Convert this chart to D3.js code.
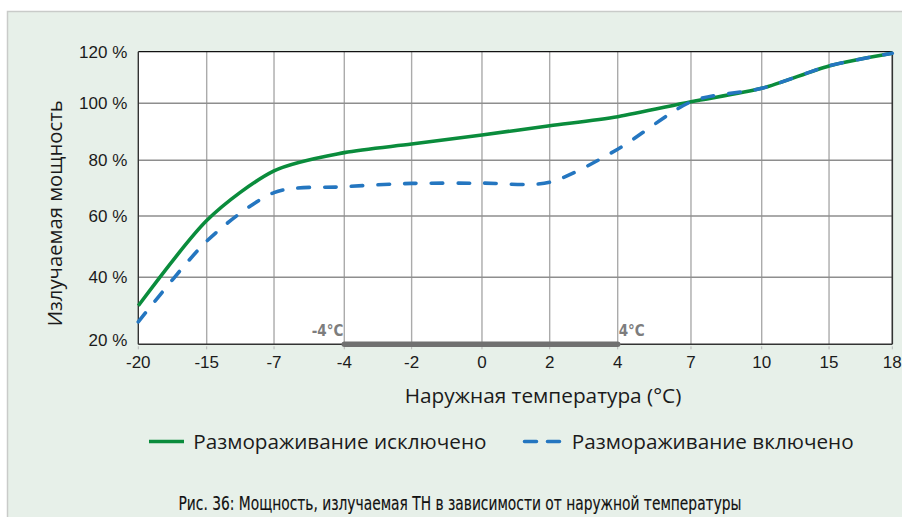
<!DOCTYPE html>
<html>
<head>
<meta charset="utf-8">
<script src="https://cdn.jsdelivr.net/npm/d3@7"></script>
<style>
  html, body { margin: 0; padding: 0; background: #ffffff; }
  svg { display: block; }
</style>
</head>
<body>
<svg id="chart" width="902" height="517"></svg>
<script>
// Outdoor temperature categories (°C), evenly spaced on the axis
const temperatures = [-20, -15, -7, -4, -2, 0, 2, 4, 7, 10, 15, 18];
// Emitted heat-pump power, % of nominal
const powerDefrostOff = [31.5, 58.5, 76.2, 82.7, 85.7, 88.9, 92.1, 95.3, 100.6, 105.8, 114.5, 119.4];
const powerDefrostOn  = [26.7, 51.8, 68.4, 70.5, 71.7, 71.8, 72.1, 83.9, 100.6, 105.8, 114.5, 119.4];
// Value axis ticks
const yTicks = [20, 40, 60, 80, 100, 120];
const yTickLabels = ["20 %", "40 %", "60 %", "80 %", "100 %", "120 %"];
// Defrost zone shown on the temperature axis
const defrostZone = [-4, 4];
const defrostZoneLabels = ["-4°C", "4°C"];
const seriesNames = ["Размораживание исключено", "Размораживание включено"];
const xTitle = "Наружная температура (°C)";
const yTitle = "Излучаемая мощность";
const caption = "Рис. 36: Мощность, излучаемая ТН в зависимости от наружной температуры";

const W = 902, H = 517;
const plot = { left: 138.3, top: 51.7, right: 892.3, bottom: 344.3 };
const pw = plot.right - plot.left, ph = plot.bottom - plot.top;

// Grid spacing of the printed axes is slightly uneven; relative stops per tick
const xStops = [0, 0.0907, 0.180, 0.2732, 0.3625, 0.4558, 0.5456, 0.6358, 0.733, 0.8268, 0.9161, 1];
const yStops = [1, 0.771, 0.5615, 0.3712, 0.1764, 0];

const xIdx = d3.scaleLinear()
  .domain(d3.range(temperatures.length))
  .range(xStops.map(f => plot.left + f * pw));
const x = t => xIdx(temperatures.indexOf(t));
const y = d3.scaleLinear()
  .domain(yTicks)
  .range(yStops.map(f => plot.top + f * ph));

const svg = d3.select("#chart");

// light green backdrop panel
svg.append("rect")
  .attr("x", 7.5).attr("y", 11.5)
  .attr("width", W).attr("height", H)
  .attr("fill", "#e7f0e9")
  .attr("stroke", "#c9cbc9").attr("stroke-width", 1.5);

// plot area
svg.append("rect")
  .attr("x", plot.left).attr("y", plot.top)
  .attr("width", pw).attr("height", ph)
  .attr("fill", "#ffffff");

// vertical grid
svg.append("g").selectAll("line")
  .data(temperatures.slice(1, -1))
  .join("line")
  .attr("x1", d => x(d)).attr("x2", d => x(d))
  .attr("y1", plot.top).attr("y2", plot.bottom)
  .attr("stroke", "#ababab").attr("stroke-width", 1.4);

// horizontal grid
svg.append("g").selectAll("line")
  .data(yTicks.slice(1, -1))
  .join("line")
  .attr("x1", plot.left).attr("x2", plot.right)
  .attr("y1", d => y(d)).attr("y2", d => y(d))
  .attr("stroke", "#8e8e8e").attr("stroke-width", 1.4);

// small tick marks under the temperature axis
svg.append("g").selectAll("line")
  .data(temperatures)
  .join("line")
  .attr("x1", d => x(d)).attr("x2", d => x(d))
  .attr("y1", plot.bottom + 2).attr("y2", plot.bottom + 5)
  .attr("stroke", "#b8b8b8").attr("stroke-width", 1);

// frame
svg.append("line").attr("x1", plot.left).attr("x2", plot.right)
  .attr("y1", plot.top).attr("y2", plot.top)
  .attr("stroke", "#111").attr("stroke-width", 1.2);
svg.append("line").attr("x1", plot.right).attr("x2", plot.right)
  .attr("y1", plot.top).attr("y2", plot.bottom)
  .attr("stroke", "#333").attr("stroke-width", 1.6);
svg.append("line").attr("x1", plot.left).attr("x2", plot.left)
  .attr("y1", plot.top).attr("y2", plot.bottom)
  .attr("stroke", "#333").attr("stroke-width", 1.4);
svg.append("line").attr("x1", plot.left).attr("x2", plot.right)
  .attr("y1", plot.bottom).attr("y2", plot.bottom)
  .attr("stroke", "#333").attr("stroke-width", 1.6);

// tick labels
const tickFont = "'Liberation Sans', Arial, sans-serif";
svg.append("g").selectAll("text")
  .data(yTicks)
  .join("text")
  .attr("x", plot.left - 11)
  .attr("y", d => y(d) + (d === yTicks[0] ? -4 : 0))
  .attr("dy", "0.36em")
  .attr("text-anchor", "end")
  .attr("font-family", tickFont).attr("font-size", 17)
  .attr("fill", "#1b1b1b")
  .text((d, i) => yTickLabels[i]);

svg.append("g").selectAll("text")
  .data(temperatures)
  .join("text")
  .attr("x", d => x(d))
  .attr("y", plot.bottom + 24)
  .attr("text-anchor", "middle")
  .attr("font-family", tickFont).attr("font-size", 17)
  .attr("fill", "#1b1b1b")
  .text(d => d);

// defrost zone band on the axis
svg.append("line")
  .attr("x1", x(defrostZone[0])).attr("x2", x(defrostZone[1]))
  .attr("y1", plot.bottom).attr("y2", plot.bottom)
  .attr("stroke", "#707070").attr("stroke-width", 5.5)
  .attr("stroke-linecap", "round");
const zoneFont = "'DejaVu Sans Condensed', 'DejaVu Sans', sans-serif";
svg.append("text")
  .attr("x", x(defrostZone[0]) - 1).attr("y", plot.bottom - 8.5)
  .attr("text-anchor", "end")
  .attr("font-family", zoneFont).attr("font-weight", "bold").attr("font-size", 15)
  .attr("fill", "#7d7d7d")
  .text(defrostZoneLabels[0]);
svg.append("text")
  .attr("x", x(defrostZone[1]) + 1).attr("y", plot.bottom - 8.5)
  .attr("text-anchor", "start")
  .attr("font-family", zoneFont).attr("font-weight", "bold").attr("font-size", 15)
  .attr("fill", "#7d7d7d")
  .text(defrostZoneLabels[1]);

// series lines: a moderately tight cardinal spline through every point
const line = d3.line()
  .x((d, i) => xIdx(i))
  .y(d => y(d))
  .curve(d3.curveCardinal.tension(0.2));

const green = "#0a8c3c", blue = "#2476c0";
svg.append("path")
  .attr("d", line(powerDefrostOff))
  .attr("fill", "none").attr("stroke", green).attr("stroke-width", 3.6)
  .attr("stroke-linejoin", "round");
svg.append("path")
  .attr("d", line(powerDefrostOn))
  .attr("fill", "none").attr("stroke", blue).attr("stroke-width", 3.6)
  .attr("stroke-dasharray", "11.5 15.2")
  .attr("stroke-linecap", "round");

// axis titles
const titleFont = "'Open Sans', 'Noto Sans', sans-serif";
svg.append("text")
  .attr("x", 543).attr("y", 402.5)
  .attr("text-anchor", "middle")
  .attr("font-family", titleFont).attr("font-size", 20.8)
  .attr("fill", "#1b1b1b")
  .text(xTitle);
svg.append("text")
  .attr("transform", "translate(62.3,213.3) rotate(-90)")
  .attr("text-anchor", "middle")
  .attr("font-family", titleFont).attr("font-size", 20.3)
  .attr("fill", "#1b1b1b")
  .text(yTitle);

// legend
const legY = 441.5;
svg.append("line")
  .attr("x1", 149).attr("x2", 184).attr("y1", legY).attr("y2", legY)
  .attr("stroke", green).attr("stroke-width", 3.6);
svg.append("text")
  .attr("x", 193.3).attr("y", legY).attr("dy", "0.36em")
  .attr("font-family", titleFont).attr("font-size", 20.7)
  .attr("fill", "#1b1b1b")
  .text(seriesNames[0]);
svg.append("line")
  .attr("x1", 524.5).attr("x2", 560).attr("y1", legY).attr("y2", legY)
  .attr("stroke", blue).attr("stroke-width", 3.6)
  .attr("stroke-dasharray", "12 11").attr("stroke-linecap", "round");
svg.append("text")
  .attr("x", 571.7).attr("y", legY).attr("dy", "0.36em")
  .attr("font-family", titleFont).attr("font-size", 20.7)
  .attr("fill", "#1b1b1b")
  .text(seriesNames[1]);

// caption (slightly emboldened condensed face)
svg.append("text")
  .attr("x", 460).attr("y", 509.5)
  .attr("text-anchor", "middle")
  .attr("font-family", "'Liberation Sans Narrow', 'DejaVu Sans Condensed', sans-serif")
  .attr("font-size", 19.5)
  .attr("textLength", 563).attr("lengthAdjust", "spacingAndGlyphs")
  .attr("fill", "#111")
  .attr("stroke", "#111").attr("stroke-width", 0.15)
  .text(caption);
</script>
</body>
</html>
